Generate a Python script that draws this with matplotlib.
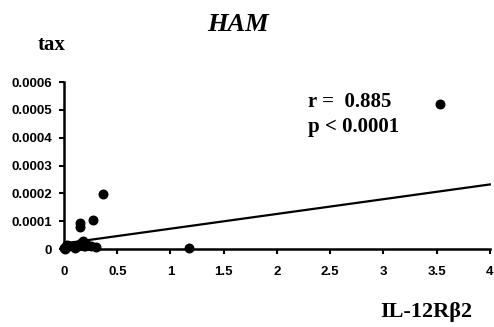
import matplotlib
matplotlib.use("Agg")
import matplotlib.pyplot as plt

# data
x_vals = [3.53, 0.37, 0.27, 0.15, 0.15, 1.17,
          0.00, 0.02, 0.03, 0.05, 0.08, 0.10, 0.13, 0.16, 0.18, 0.19, 0.20, 0.22, 0.25, 0.30, 0.01]
y_vals = [0.00052, 0.000197, 0.000105, 0.000092, 0.00008, 0.000005,
          0.000005, 0.00001, 0.000015, 0.00001, 0.00001, 0.000004, 0.00001, 0.00002, 0.00003, 0.000012, 0.00001, 0.000015, 0.00001, 0.000006, 0.0]
fit_x = [0.0, 4.0]
fit_y = [0.00002, 0.000232]
x_ticks = [0, 0.5, 1, 1.5, 2, 2.5, 3, 3.5, 4]
x_tick_labels = ["0", "0.5", "1", "1.5", "2", "2.5", "3", "3.5", "4"]
y_ticks = [0, 0.0001, 0.0002, 0.0003, 0.0004, 0.0005, 0.0006]
y_tick_labels = ["0", "0.0001", "0.0002", "0.0003", "0.0004", "0.0005", "0.0006"]

fig = plt.figure(figsize=(4.94, 3.27), dpi=100)
ax = fig.add_axes([0.1296, 0.2385, 0.862, 0.5107])
ax.scatter(x_vals, y_vals, s=38, color="black", zorder=3, clip_on=False)
ax.plot(fit_x, fit_y, color="black", lw=1.6, clip_on=False)
ax.set_xlim(0, 4)
ax.set_ylim(0, 0.0006)
ax.set_xticks(x_ticks)
ax.set_xticklabels(x_tick_labels)
ax.set_yticks(y_ticks)
ax.set_yticklabels(y_tick_labels)
for lab in ax.get_xticklabels() + ax.get_yticklabels():
    lab.set_fontfamily("Liberation Sans")
    lab.set_fontweight("bold")
    lab.set_fontsize(9.5)
ax.tick_params(axis="both", direction="out", length=3.5, width=1.5)
ax.tick_params(axis="x", pad=8.5)
ax.tick_params(axis="y", pad=5)
for s in ["top", "right"]:
    ax.spines[s].set_visible(False)
for s in ["left", "bottom"]:
    ax.spines[s].set_linewidth(1.8)

serif = "Liberation Serif"
fig.text(0.482, 0.924, "HAM", ha="center", va="center", family=serif,
         fontsize=19, fontweight="bold", fontstyle="italic")
fig.text(0.105, 0.862, "tax", ha="center", va="center", family=serif,
         fontsize=15, fontweight="bold")
ax.text(0.573, 0.88, "r =  0.885", transform=ax.transAxes, ha="left", va="center",
        family=serif, fontsize=15, fontweight="bold")
ax.text(0.573, 0.73, "p < 0.0001", transform=ax.transAxes, ha="left", va="center",
        family=serif, fontsize=15, fontweight="bold")
fig.text(0.863, 0.045, "IL-12R\u03b22", ha="center", va="center", family=serif,
         fontsize=16, fontweight="bold")

fig.savefig("out.png", dpi=100)
